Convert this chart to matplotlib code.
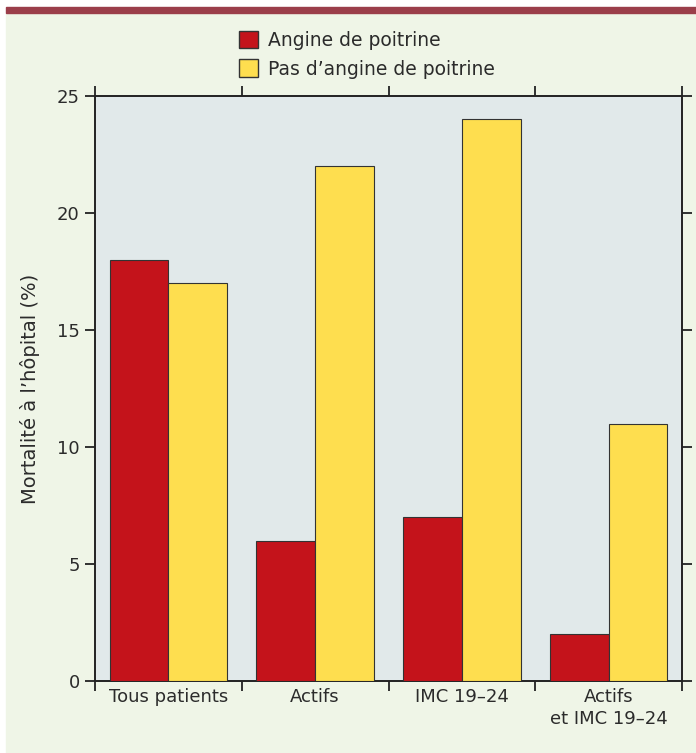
import numpy as np
import matplotlib.pyplot as plt
from matplotlib.patches import Rectangle, Patch

categories = ['Tous patients', 'Actifs', 'IMC 19\u201324', 'Actifs\net IMC 19\u201324']
angine = [18, 6, 7, 2]
sans_angine = [17, 22, 24, 11]
series_labels = ['Angine de poitrine', 'Pas d\u2019angine de poitrine']
yticks = [0, 5, 10, 15, 20, 25]

rouge = '#c4131b'
jaune = '#fede4f'
fond = '#eff5e7'
fond_axes = '#e1e9ea'
bandeau = '#9b3e4a'
texte = '#2b2b2b'

plt.rcParams['font.family'] = ['DejaVu Sans']

fig = plt.figure(figsize=(6.96, 7.53), dpi=100, facecolor='white')

# fond vert clair et bandeau du haut
W, H = 696, 753
fig.patches.append(Rectangle((6 / W, 0), 1 - 6 / W, 1 - 13 / H,
                             transform=fig.transFigure, color=fond, zorder=-10))
fig.patches.append(Rectangle((6 / W, 1 - 13 / H), 1 - 6 / W, 6 / H,
                             transform=fig.transFigure, color=bandeau, zorder=-10))

ax = fig.add_axes([95 / W, 72 / H, (682 - 95) / W, (681 - 96) / H])
ax.set_facecolor(fond_axes)

x = np.arange(len(categories)) + 0.5
largeur = 0.4
ax.bar(x - largeur / 2, angine, largeur, color=rouge, edgecolor='#333333',
       linewidth=0.8, zorder=3)
ax.bar(x + largeur / 2, sans_angine, largeur, color=jaune, edgecolor='#333333',
       linewidth=0.8, zorder=3)

ax.set_xlim(0, len(categories))
ax.set_ylim(0, 25)

# graduations aux limites de catégories, étiquettes centrées
ax.set_xticks(np.arange(len(categories) + 1))
ax.set_xticklabels([])
ax.set_xticks(x, minor=True)
ax.set_xticklabels(categories, minor=True, fontsize=13, color=texte,
                   linespacing=1.3)
ax.tick_params(axis='x', which='minor', length=0, pad=5)

ax.set_yticks(yticks)
ax.set_yticklabels([str(v) for v in yticks], fontsize=13, color=texte)
ax.tick_params(axis='both', which='major', direction='out', length=7,
               width=1.3, color='#222222', top=True, right=True,
               labelright=False, labeltop=False)
ax.tick_params(axis='y', pad=4)

for s in ax.spines.values():
    s.set_linewidth(1.4)
    s.set_color('#222222')

ax.set_ylabel('Mortalité à l\u2019hôpital (%)', fontsize=14, color=texte,
              labelpad=12)

handles = [Patch(facecolor=rouge, edgecolor='#333333', linewidth=1),
           Patch(facecolor=jaune, edgecolor='#333333', linewidth=1)]
fig.legend(handles, series_labels, loc='upper left',
           bbox_to_anchor=(239 / W, 1 - 31 / H), frameon=False,
           fontsize=13.5, handlelength=1.0, handleheight=1.05,
           handletextpad=0.55, labelspacing=0.5, labelcolor=texte,
           borderaxespad=0, borderpad=0)

fig.savefig('out.png', dpi=100, facecolor=fig.get_facecolor())
